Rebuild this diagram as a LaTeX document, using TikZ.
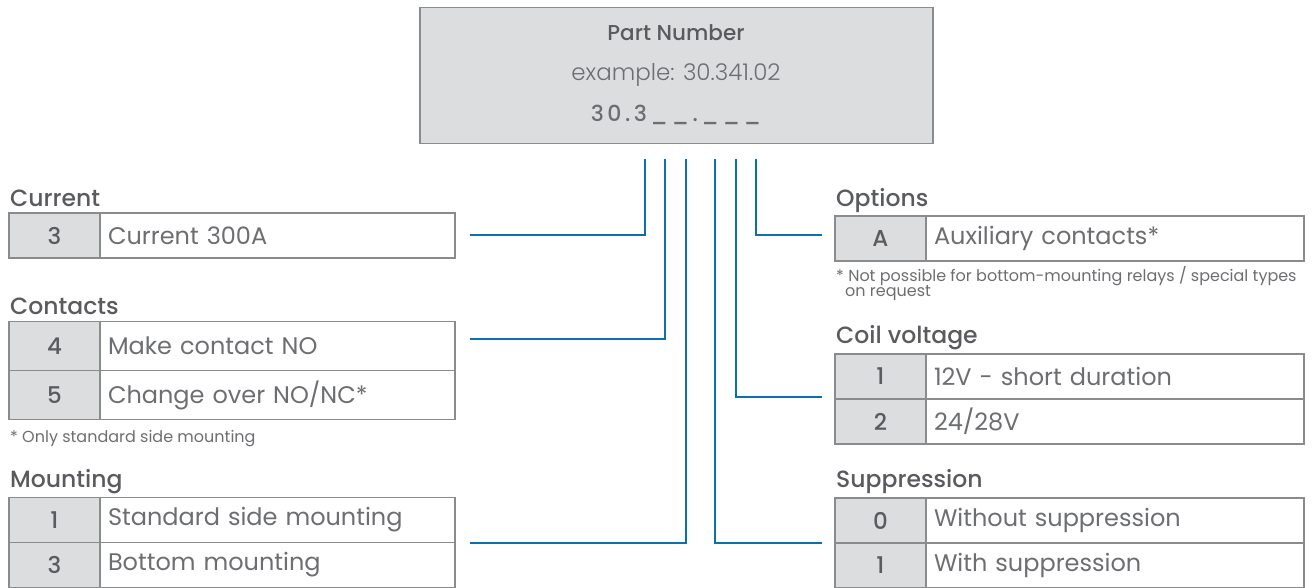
\documentclass[tikz,border=0pt]{standalone}
\usepackage{fontspec}
\setmainfont{Poppins}
\newfontfamily\medfont{Poppins Medium}
\newfontfamily\lightfont{Poppins Light}
\definecolor{boxgray}{HTML}{DCDDDF}
\definecolor{linegray}{HTML}{8A8B8D}
\definecolor{txtgray}{HTML}{6D6E71}
\definecolor{ttlgray}{HTML}{5A5B5E}
\definecolor{conblue}{HTML}{0A72A8}
\tikzset{
  tabfont/.style={font=\fontsize{24}{26}\selectfont},
  numcell/.style={draw=linegray, fill=boxgray, line width=1.3pt, minimum width=91pt, minimum height=45pt, inner sep=0pt, text=ttlgray, font=\medfont\fontsize{23}{26}\selectfont},
  desccellL/.style={draw=linegray, line width=1.3pt, minimum width=355pt, minimum height=45pt, inner xsep=8pt, inner ysep=0pt, text width=339pt, align=left, text=txtgray, tabfont},
  desccellR/.style={draw=linegray, line width=1.3pt, minimum width=378pt, minimum height=45pt, inner xsep=8pt, inner ysep=0pt, text width=362pt, align=left, text=txtgray, tabfont},
  ttl/.style={anchor=west, inner sep=0pt, text=ttlgray, font=\medfont\fontsize{23.5}{26}\selectfont},
  fnote/.style={anchor=west, inner sep=0pt, text=txtgray, font=\fontsize{16}{19}\selectfont},
  conn/.style={draw=conblue, line width=2.2pt},
}
\begin{document}
\begin{tikzpicture}[x=1pt,y=-1pt]
\useasboundingbox (0,0) rectangle (1316,587);
% part number box
\node[draw=linegray, fill=boxgray, line width=1.3pt, minimum width=513pt, minimum height=136pt, inner sep=0pt] (pn) at (676.5,75.5) {};
\node[text=ttlgray, font=\medfont\fontsize{21.5}{24}\selectfont, inner sep=0pt] (pnt) at (676,33) {Part Number};
\node[text=txtgray, font=\lightfont\fontsize{23}{26}\selectfont, inner sep=0pt] (pnex) at (676,75) {example: 30.341.02};
\node[text=txtgray, font=\medfont\fontsize{22}{26}\selectfont\addfontfeature{LetterSpace=16}, inner sep=0pt] (pncode) at (676,115) {30.3\_\_.\_\_\_};

% left: Current
\node[ttl] (curT) at (10,198) {Current};
\node[numcell] (cur3) at (54.5,235.5) {3};
\node[desccellL] (cur3d) at (277.5,235.5) {Current 300A};

% left: Contacts
\node[ttl] (conT) at (10,306) {Contacts};
\node[numcell, minimum height=49pt] (con4) at (54.5,346) {4};
\node[desccellL, minimum height=49pt] (con4d) at (277.5,346) {Make contact NO};
\node[numcell, minimum height=49pt] (con5) at (54.5,395) {5};
\node[desccellL, minimum height=49pt] (con5d) at (277.5,395) {Change over NO/NC*};
\node[fnote] (conF) at (10,439) {* Only standard side mounting};

% left: Mounting
\node[ttl] (mouT) at (10,482) {Mounting};
\node[numcell] (mou1) at (54.5,520) {1};
\node[desccellL] (mou1d) at (277.5,520) {Standard side mounting};
\node[numcell] (mou3) at (54.5,565) {3};
\node[desccellL] (mou3d) at (277.5,565) {Bottom mounting};

% right: Options
\node[ttl] (optT) at (836,201) {Options};
\node[numcell] (optA) at (880.5,238.5) {A};
\node[desccellR] (optAd) at (1115,238.5) {Auxiliary contacts*};
\node[fnote] (optF1) at (836,276) {* Not possible for bottom-mounting relays / special types};
\node[fnote] (optF2) at (845,293) {on request};

% right: Coil voltage
\node[ttl] (coiT) at (836,338) {Coil voltage};
\node[numcell] (coi1) at (880.5,376.5) {1};
\node[desccellR] (coi1d) at (1115,376.5) {12V - short duration};
\node[numcell] (coi2) at (880.5,421.5) {2};
\node[desccellR] (coi2d) at (1115,421.5) {24/28V};

% right: Suppression
\node[ttl] (supT) at (836,482) {Suppression};
\node[numcell] (sup0) at (880.5,520.5) {0};
\node[desccellR] (sup0d) at (1115,520.5) {Without suppression};
\node[numcell] (sup1) at (880.5,565.5) {1};
\node[desccellR] (sup1d) at (1115,565.5) {With suppression};

% connector coordinates
\coordinate (s1) at (645,159); \coordinate (e1) at (470,235);
\coordinate (s2) at (665,159); \coordinate (e2) at (470,339);
\coordinate (s3) at (686,159); \coordinate (e3) at (470,543);
\coordinate (s4) at (715,159); \coordinate (e4) at (822,543);
\coordinate (s5) at (736,159); \coordinate (e5) at (822,397);
\coordinate (s6) at (756,159); \coordinate (e6) at (822,235);
\draw[conn] (s1) |- (e1);
\draw[conn] (s2) |- (e2);
\draw[conn] (s3) |- (e3);
\draw[conn] (s4) |- (e4);
\draw[conn] (s5) |- (e5);
\draw[conn] (s6) |- (e6);
\end{tikzpicture}
\end{document}
